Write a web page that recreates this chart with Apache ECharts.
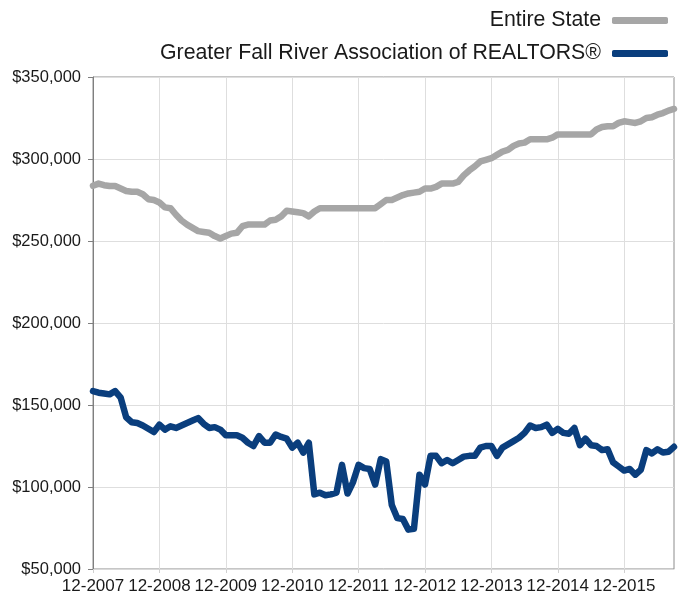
<!DOCTYPE html>
<html>
<head>
<meta charset="utf-8">
<script src="https://cdn.jsdelivr.net/npm/echarts@6/dist/echarts.min.js"></script>
<style>
html,body{margin:0;padding:0;background:#fff;}
#chart{width:680px;height:596px;}
</style>
</head>
<body>
<div id="chart"></div>
<script>
// Monthly categories 12-2007 .. 09-2016
var startYear = 2007, startMonth = 12, monthCount = 106;
var categories = [];
(function(){
  var y = startYear, m = startMonth;
  for (var i = 0; i < monthCount; i++) {
    categories.push((m < 10 ? '0' + m : '' + m) + '-' + y);
    m++; if (m > 12) { m = 1; y++; }
  }
})();

var seriesNames = ['Entire State', 'Greater Fall River Association of REALTORS®'];

var entireState = [
  283700,285000,284000,283500,283500,282000,280500,280000,280000,278500,
  275500,275000,273500,270500,270000,266000,262500,260000,258000,256000,
  255500,255000,253000,251500,253000,254500,255000,259000,260000,260000,
  260000,260000,262500,263000,265000,268500,268000,267500,267000,265000,
  268000,270000,270000,270000,270000,270000,270000,270000,270000,270000,
  270000,270000,272500,275000,275000,276500,278000,279000,279500,280000,
  282000,282000,283000,285000,285000,285000,286000,290000,293000,295500,
  298500,299500,300500,302500,304500,305500,308000,309500,310000,312000,
  312000,312000,312000,313000,315000,315000,315000,315000,315000,315000,
  315000,318000,319500,320000,320000,322000,323000,322500,322000,323000,
  325000,325500,327000,328000,329500,330500
];

var fallRiver = [
  158500,157500,157000,156500,158500,154500,142500,139500,139000,137500,
  135500,133500,138000,135000,137000,136000,137500,139000,140500,142000,
  138500,136000,136500,135000,131500,131500,131500,130000,127000,125000,
  131000,127000,127000,132000,130500,129500,124000,127000,121000,127000,
  95500,96500,95000,95500,96500,113500,96000,103000,113500,111500,
  111000,101500,117000,115500,89000,81000,80500,74000,74500,107500,
  101500,119000,119000,114500,116500,114500,116500,118500,119000,119000,
  124000,125000,125000,119000,124000,126000,128000,130000,133000,137500,
  136000,136500,138000,133000,135500,133000,132500,136000,125500,129500,
  125500,125000,122500,123000,115000,112500,110000,111000,107500,110500,
  122500,120500,123000,121000,121500,124500
];

var yMin = 50000, yMax = 350000, yStep = 50000;
var colors = ['#a6a6a6', '#0a3e7d'];

var chart = echarts.init(document.getElementById('chart'), null, {renderer: 'canvas'});
var fontFam = '"Liberation Sans", Arial, Helvetica, sans-serif';

chart.setOption({
  animation: false,
  backgroundColor: '#ffffff',
  color: colors,
  legend: {
    orient: 'vertical',
    right: 7,
    top: 5,
    align: 'right',
    itemGap: 12,
    icon: 'roundRect',
    itemWidth: 56,
    itemHeight: 7,
    textStyle: {fontFamily: fontFam, fontSize: 21.3, color: '#1a1a1a', padding: [0, 6, 0, 0]},
    data: seriesNames
  },
  grid: {
    left: 93, right: 6, top: 77, bottom: 27,
    show: true, borderColor: '#8c8c8c', borderWidth: 1, backgroundColor: 'transparent'
  },
  xAxis: {
    type: 'category',
    data: categories,
    boundaryGap: false,
    axisLine: {show: true, lineStyle: {color: '#d9d9d9', width: 1}},
    axisTick: {show: true, interval: 11, length: 4, lineStyle: {color: '#d0d0d0'}},
    axisLabel: {interval: 11, fontFamily: fontFam, fontSize: 17, color: '#1a1a1a', margin: 9},
    splitLine: {show: true, interval: 11, lineStyle: {color: '#dedede', width: 1}}
  },
  yAxis: {
    type: 'value',
    min: yMin, max: yMax, interval: yStep,
    axisLine: {show: true, lineStyle: {color: '#7f7f7f', width: 1}},
    axisTick: {show: true, length: 5, lineStyle: {color: '#7f7f7f'}},
    axisLabel: {
      fontFamily: fontFam, fontSize: 16.5, color: '#1a1a1a', margin: 12,
      formatter: function (v) { return '$' + v.toLocaleString('en-US'); }
    },
    splitLine: {show: true, lineStyle: {color: '#dedede', width: 1}}
  },
  series: [
    {
      name: seriesNames[0], type: 'line', data: entireState,
      symbol: 'none', smooth: false,
      lineStyle: {width: 6.5, color: colors[0], cap: 'round', join: 'round'},
      itemStyle: {color: colors[0]}
    },
    {
      name: seriesNames[1], type: 'line', data: fallRiver,
      symbol: 'none', smooth: false,
      lineStyle: {width: 6.5, color: colors[1], cap: 'round', join: 'round'},
      itemStyle: {color: colors[1]}
    }
  ]
});
</script>
</body>
</html>
